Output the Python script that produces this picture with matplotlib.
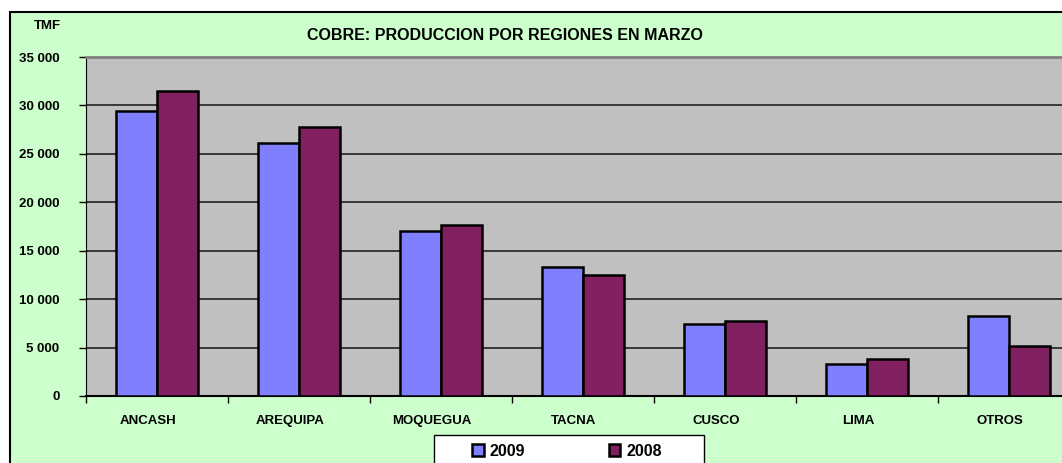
import numpy as np
import matplotlib.pyplot as plt
import matplotlib.transforms as mtransforms
from matplotlib.patches import Rectangle

# copper production by region, March (TMF)
regiones = ["ANCASH", "AREQUIPA", "MOQUEGUA", "TACNA", "CUSCO", "LIMA", "OTROS"]
prod_2009 = [29400, 26100, 17000, 13300, 7450, 3350, 8300]
prod_2008 = [31500, 27800, 17650, 12450, 7700, 3800, 5150]
y_ticks = [0, 5000, 10000, 15000, 20000, 25000, 30000, 35000]

W, H = 1062, 463
plt.rcParams['font.family'] = ['Liberation Sans', 'DejaVu Sans']
plt.rcParams['font.weight'] = 'bold'

fig = plt.figure(figsize=(W / 100, H / 100), dpi=100)
fig.patch.set_facecolor('white')

# green chart area with border (clipped at right/bottom like the original)
fig.patches.append(Rectangle((10 / W, -0.05), 1.1, (H - 12) / H + 0.05,
                             transform=fig.transFigure, facecolor='#CCFFCC',
                             edgecolor='black', linewidth=1.5, zorder=-1))

ax = fig.add_axes([86 / W, (H - 396) / H, (1080 - 86) / W, 339 / H])
ax.set_zorder(1)
ax.set_facecolor('#C0C0C0')

x = np.arange(len(regiones))
w = 0.29
ax.bar(x - w / 2, prod_2009, w, color='#8080FF', edgecolor='black', linewidth=1.8,
       label='2009', zorder=3)
ax.bar(x + w / 2, prod_2008, w, color='#802060', edgecolor='black', linewidth=1.8,
       label='2008', zorder=3)

ax.set_xlim(-0.5, len(regiones) - 0.5)
ax.set_ylim(0, 35000)
ax.set_yticks(y_ticks)
ax.set_yticklabels([f"{v:,.0f}".replace(",", " ") for v in y_ticks], fontsize=9.5,
                   fontweight='bold')
ax.yaxis.grid(True, color='#222222', linewidth=1.2, zorder=1)
ax.set_axisbelow(True)

ax.set_xticks(np.arange(len(regiones) + 1) - 0.5, minor=False)
ax.set_xticklabels([])
ax.set_xticks(x, minor=True)
ax.set_xticklabels(regiones, minor=True, fontsize=9.5, fontweight='bold')
ax.tick_params(axis='x', which='minor', length=0, pad=14)
ax.tick_params(axis='x', which='major', length=5, width=1)
ax.tick_params(axis='y', length=5, width=1, pad=14)

# category labels sit a little left of the bar pairs in the original
shift = mtransforms.ScaledTranslation(-9 / 100, 0, fig.dpi_scale_trans)
for lab in ax.get_xticklabels(minor=True):
    lab.set_transform(lab.get_transform() + shift)

ax.spines['top'].set_color('#808080')
ax.spines['top'].set_linewidth(2)
ax.spines['right'].set_visible(False)
ax.spines['left'].set_color('black')
ax.spines['bottom'].set_color('black')
ax.spines['bottom'].set_linewidth(1.5)

fig.text(505 / W, 1 - 35 / H, "COBRE: PRODUCCION POR REGIONES EN MARZO",
         ha='center', va='center', fontsize=11.5, fontweight='bold')
fig.text(47 / W, 1 - 26 / H, "TMF", ha='center', va='center', fontsize=9.5,
         fontweight='bold')

# legend box, cut off by the bottom edge
fig.patches.append(Rectangle((434 / W, -0.05), (704 - 434) / W, (H - 435) / H + 0.05,
                             transform=fig.transFigure, facecolor='white',
                             edgecolor='black', linewidth=1, zorder=5))
leg = fig.legend(loc='center', bbox_to_anchor=(567 / W, 1 - 451 / H), ncol=2,
                 frameon=False, fontsize=11.5, handlelength=0.7, handleheight=0.7,
                 handletextpad=0.4, columnspacing=5.2)
leg.set_zorder(6)
for t in leg.get_texts():
    t.set_fontweight('bold')

fig.savefig('out.png', dpi=100)
